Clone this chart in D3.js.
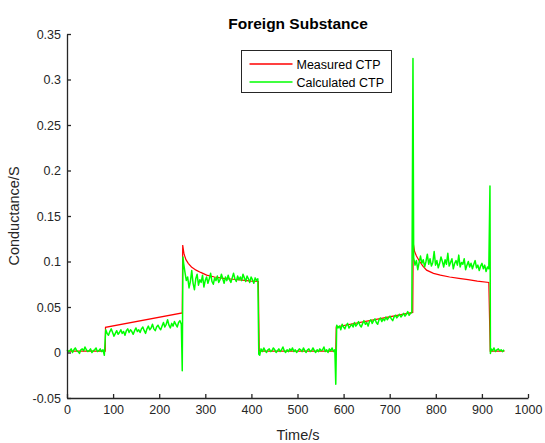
<!DOCTYPE html>
<html>
<head>
<meta charset="utf-8">
<script src="https://cdn.jsdelivr.net/npm/d3@7"></script>
<style>
  body { margin: 0; background: #fff; }
  svg { display: block; font-family: "Liberation Sans", Arial, sans-serif; }
</style>
</head>
<body>
<div id="chart"></div>
<script>
// x ticks / y ticks
const xTicks = [0, 100, 200, 300, 400, 500, 600, 700, 800, 900, 1000];
const yTicks = [-0.05, 0, 0.05, 0.1, 0.15, 0.2, 0.25, 0.3, 0.35];
const seriesNames = ["Measured CTP", "Calculated CTP"];

// measured CTP, [time, conductance]
const measured = [
  [0, 0.0015], [83, 0.0015], [83.5, 0.0277], [250, 0.0435],
  [251, 0.118], [254, 0.108], [258, 0.102], [263, 0.098], [270, 0.094],
  [280, 0.0905], [290, 0.088], [303, 0.085], [320, 0.083], [340, 0.0815],
  [360, 0.0805], [380, 0.0795], [400, 0.0785], [415, 0.078],
  [417, 0.0015], [583, 0.0015], [584, 0.028], [750, 0.044],
  [751, 0.1205], [754, 0.111], [758, 0.106], [765, 0.1], [772, 0.095],
  [780, 0.0905], [795, 0.087], [810, 0.085], [830, 0.083], [850, 0.0815],
  [870, 0.08], [890, 0.0785], [915, 0.077], [918, 0.0015], [949, 0.0015]
];

// calculated CTP, sampled segments between the switching instants
const calcSegStart = [0, 84, 253, 418, 585, 752, 920];
const calcSegEnd   = [81, 248, 414, 581, 748, 915, 948];
const calcSeg0 = [0.003, 0.001, 0.002, 0.004, 0.000, 0.003, 0.005, 0.002, 0.001, -0.001, 0.003,
  0.004, 0.002, 0.006, 0.003, 0.001, 0.002, 0.004, 0.000, 0.002, 0.003, 0.005, 0.001, 0.002,
  0.004, 0.001, 0.003, -0.003];
const calcSeg1 = [0.025, 0.021, 0.019, 0.023, 0.026, 0.022, 0.018, 0.021, 0.024, 0.020, 0.022,
  0.025, 0.021, 0.023, 0.019, 0.024, 0.026, 0.022, 0.025, 0.023, 0.020, 0.024, 0.027, 0.023,
  0.025, 0.022, 0.026, 0.028, 0.024, 0.021, 0.026, 0.029, 0.025, 0.027, 0.031, 0.026, 0.024,
  0.028, 0.030, 0.027, 0.025, 0.029, 0.033, 0.028, 0.031, 0.036, 0.030, 0.027, 0.032, 0.029,
  0.034, 0.031, 0.028, 0.033, 0.035, 0.031];
const calcSeg2 = [0.098, 0.088, 0.079, 0.083, 0.071, 0.078, 0.090, 0.076, 0.069, 0.081, 0.086,
  0.074, 0.080, 0.077, 0.085, 0.072, 0.079, 0.083, 0.076, 0.081, 0.087, 0.078, 0.075, 0.082,
  0.079, 0.084, 0.077, 0.080, 0.086, 0.081, 0.076, 0.083, 0.079, 0.085, 0.080, 0.077, 0.082,
  0.087, 0.081, 0.078, 0.084, 0.080, 0.083, 0.079, 0.086, 0.082, 0.078, 0.084, 0.081, 0.077,
  0.083, 0.080, 0.076, 0.082, 0.079, 0.081];
const calcSeg3 = [-0.003, 0.004, 0.001, 0.005, 0.002, 0.000, 0.003, 0.004, 0.001, 0.002, 0.005,
  0.003, 0.000, 0.002, 0.004, 0.001, 0.003, 0.006, 0.002, 0.000, 0.003, 0.001, 0.004, 0.002,
  0.005, 0.001, 0.003, 0.000, 0.002, 0.004, 0.003, 0.001, 0.005, 0.002, 0.000, 0.003, 0.004,
  0.001, 0.002, 0.005, 0.002, 0.000, 0.003, 0.001, 0.004, 0.002, 0.003, 0.006, 0.001, 0.003,
  0.000, 0.004, 0.002, 0.005, 0.001, 0.003];
const calcSeg4 = [0.030, 0.027, 0.029, 0.025, 0.031, 0.028, 0.026, 0.030, 0.032, 0.027, 0.029,
  0.031, 0.028, 0.033, 0.029, 0.031, 0.034, 0.030, 0.028, 0.032, 0.035, 0.031, 0.033, 0.029,
  0.034, 0.036, 0.032, 0.035, 0.037, 0.033, 0.031, 0.036, 0.038, 0.034, 0.037, 0.035, 0.039,
  0.036, 0.038, 0.040, 0.037, 0.035, 0.039, 0.041, 0.038, 0.040, 0.042, 0.039, 0.041, 0.043,
  0.040, 0.042, 0.045, 0.041, 0.043, 0.044];
const calcSeg5 = [0.104, 0.096, 0.101, 0.091, 0.099, 0.106, 0.098, 0.102, 0.094, 0.100, 0.108,
  0.097, 0.103, 0.095, 0.099, 0.111, 0.096, 0.101, 0.093, 0.098, 0.105, 0.100, 0.094, 0.102,
  0.097, 0.109, 0.095, 0.099, 0.103, 0.092, 0.098, 0.101, 0.096, 0.107, 0.094, 0.099, 0.097,
  0.103, 0.091, 0.096, 0.100, 0.094, 0.098, 0.092, 0.097, 0.101, 0.093, 0.096, 0.090, 0.095,
  0.098, 0.092, 0.096, 0.089, 0.094, 0.092];
const calcSeg6 = [0.004, 0.002, 0.005, 0.001, 0.003, 0.004, 0.002, 0.003, 0.001, 0.003];
// transient spikes at the switching instants
const calcSpikes = [[250, -0.020], [251.5, 0.105], [416, -0.002], [583, -0.035],
  [750.5, 0.323], [917.5, 0.183], [918.5, -0.001]];

const W = 545, H = 443;
const x = d3.scaleLinear().domain([0, 1000]).range([67, 528]);
const y = d3.scaleLinear().domain([-0.05, 0.35]).range([398, 34]);

const calcSegs = [calcSeg0, calcSeg1, calcSeg2, calcSeg3, calcSeg4, calcSeg5, calcSeg6];
let calculated = [];
calcSegs.forEach((vals, k) => {
  let t0 = calcSegStart[k], t1 = calcSegEnd[k];
  vals.forEach((v, i) => calculated.push([t0 + i * (t1 - t0) / (vals.length - 1), v]));
});
calculated = calculated.concat(calcSpikes).sort((a, b) => a[0] - b[0]);

const svg = d3.select("#chart").append("svg")
  .attr("width", W).attr("height", H);
svg.append("rect").attr("width", W).attr("height", H).attr("fill", "#fff");

const line = d3.line().x(d => x(d[0])).y(d => y(d[1]));

svg.append("path").datum(measured)
  .attr("d", line)
  .attr("fill", "none").attr("stroke", "#ff0000").attr("stroke-width", 1.2);
svg.append("path").datum(calculated)
  .attr("d", line)
  .attr("fill", "none").attr("stroke", "#00ff00").attr("stroke-width", 1.5)
  .attr("stroke-linejoin", "round");

// axes, MATLAB style: inward ticks, no box
const fmt = d => String(+d.toFixed(2));
let styleAxis = (g) => {
  g.select(".domain").attr("stroke", "#262626").attr("stroke-width", 1.3);
  g.selectAll(".tick line").attr("stroke", "#262626").attr("stroke-width", 1.3);
  g.selectAll(".tick text").attr("fill", "#262626").style("font-size", "12.5px");
};
svg.append("g")
  .attr("transform", "translate(0,398)")
  .call(d3.axisBottom(x).tickValues(xTicks).tickFormat(d => d)
    .tickSizeInner(-4).tickSizeOuter(0).tickPadding(7))
  .call(styleAxis);
svg.append("g")
  .attr("transform", "translate(67,0)")
  .call(d3.axisLeft(y).tickValues(yTicks).tickFormat(fmt)
    .tickSizeInner(-4).tickSizeOuter(0).tickPadding(6))
  .call(styleAxis);

svg.append("text")
  .attr("x", 298).attr("y", 29)
  .attr("text-anchor", "middle")
  .style("font-size", "15.5px").style("font-weight", "bold")
  .attr("fill", "#000")
  .text("Foreign Substance");

svg.append("text")
  .attr("x", 298).attr("y", 440)
  .attr("text-anchor", "middle")
  .style("font-size", "14.5px").attr("fill", "#262626")
  .text("Time/s");

svg.append("text")
  .attr("transform", "translate(19,216) rotate(-90)")
  .attr("text-anchor", "middle")
  .style("font-size", "14.5px").attr("fill", "#262626")
  .text("Conductance/S");

// legend
const colors = ["#ff0000", "#00ff00"];
const leg = svg.append("g").attr("transform", "translate(241.5,50.5)");
leg.append("rect").attr("width", 150).attr("height", 42)
  .attr("fill", "#fff").attr("stroke", "#262626").attr("stroke-width", 1);
seriesNames.forEach((name, i) => {
  let ly = 13.5 + i * 18;
  leg.append("line").attr("x1", 8).attr("x2", 51).attr("y1", ly).attr("y2", ly)
    .attr("stroke", colors[i]).attr("stroke-width", 1.5);
  leg.append("text").attr("x", 55).attr("y", ly + 4.5)
    .style("font-size", "12.5px").attr("fill", "#000")
    .text(name);
});
</script>
</body>
</html>
